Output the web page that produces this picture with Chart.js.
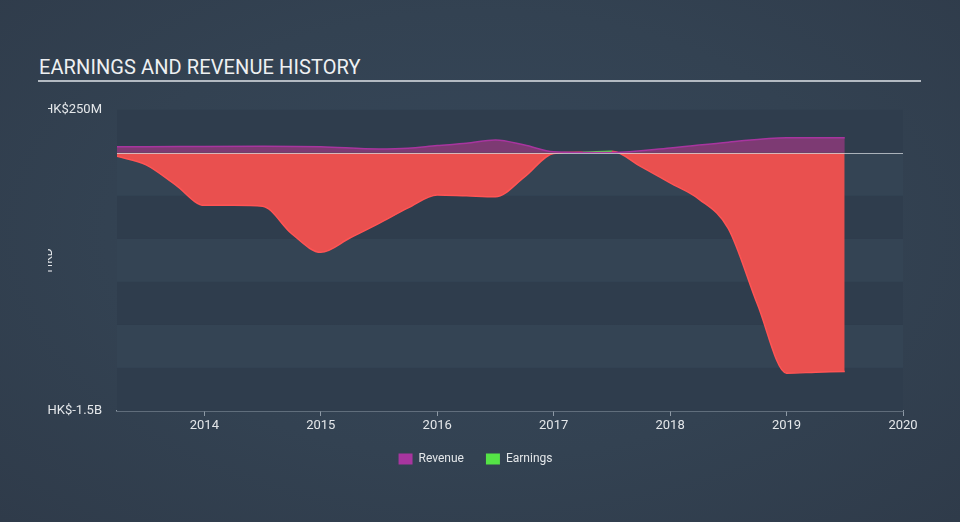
<!DOCTYPE html>
<html>
<head>
<meta charset="utf-8">
<script src="https://cdn.jsdelivr.net/npm/chart.js@4"></script>
<style>
  html, body { margin: 0; padding: 0; }
  body {
    width: 960px; height: 522px; overflow: hidden; position: relative;
    background: radial-gradient(ellipse at 50% 45%, #36475a 0%, #334252 55%, #2f3b4a 100%);
    font-family: Roboto, "Open Sans", sans-serif;
  }
  #title {
    position: absolute; left: 39px; top: 55px;
    color: #eef0f2; font-size: 20px; letter-spacing: 0.1px; white-space: nowrap;
  }
  #rule { position: absolute; left: 38px; top: 80px; width: 883px; height: 2px; background: #b3bac2; }
  #wrap { position: absolute; left: 48px; top: 87px; width: 872px; height: 388px; }
</style>
</head>
<body>
<div id="title">EARNINGS AND REVENUE HISTORY</div>
<div id="rule"></div>
<div id="wrap"><canvas id="chart"></canvas></div>
<script>
// values in HK$ millions, x in decimal years
const revenueX = [2013.25, 2013.5, 2014, 2014.5, 2015, 2015.5, 2015.75, 2016, 2016.25, 2016.5, 2016.75, 2017, 2017.25, 2017.5, 2018, 2018.5, 2019, 2019.5];
const revenueY = [35, 35, 37, 38, 35, 22, 26, 42, 55, 75, 45, 6, 2, 2, 28, 62, 88, 88];

const earningsX = [2013.25, 2013.5, 2013.75, 2014, 2014.25, 2014.5, 2014.75, 2015, 2015.25, 2015.5, 2015.75, 2016, 2016.25, 2016.5, 2016.75, 2017, 2017.25, 2017.5, 2017.75, 2018, 2018.25, 2018.5, 2018.75, 2019, 2019.25, 2019.5];
const earningsY = [-20, -70, -185, -305, -305, -310, -470, -578, -495, -410, -320, -245, -250, -255, -140, -4, 3, 9, -80, -175, -270, -440, -880, -1280, -1275, -1270];

const yearTicks = [2014, 2015, 2016, 2017, 2018, 2019, 2020];
const yMin = -1500, yMax = 250, yStep = 250;

const pts = (xs, ys) => xs.map((x, i) => ({ x, y: ys[i] }));

const bands = {
  id: "bands",
  beforeDatasetsDraw(chart) {
    const { ctx, chartArea: a, scales: { y } } = chart;
    ctx.save();
    let i = 0;
    for (let v = yMax; v > yMin; v -= yStep, i++) {
      const t = y.getPixelForValue(v), b = y.getPixelForValue(v - yStep);
      ctx.fillStyle = i % 2 === 0 ? "#2f3d4d" : "#344454";
      ctx.fillRect(a.left, t, a.right - a.left, b - t);
    }
    ctx.restore();
  },
  afterDatasetsDraw(chart) {
    const { ctx, chartArea: a, scales: { y } } = chart;
    const z = Math.round(y.getPixelForValue(0)) + 0.5;
    ctx.save();
    ctx.strokeStyle = "rgba(210,215,220,0.75)";
    ctx.lineWidth = 1;
    ctx.beginPath();
    ctx.moveTo(a.left, z);
    ctx.lineTo(a.right, z);
    ctx.stroke();
    ctx.restore();
  },
};

new Chart(document.getElementById("chart"), {
  type: "line",
  data: {
    datasets: [
      {
        label: "Revenue",
        data: pts(revenueX, revenueY),
        borderColor: "#a8359f",
        backgroundColor: "#7d3a73",
        borderWidth: 1.5, pointRadius: 0, fill: "origin",
        cubicInterpolationMode: "monotone",
      },
      {
        label: "Earnings",
        data: pts(earningsX, earningsY),
        borderColor: "#ff5454",
        backgroundColor: "#55e346",
        segment: {
          borderColor: (c) => (c.p0.parsed.y >= 0 && c.p1.parsed.y >= 0 ? "#55e346" : "#ff5454"),
        },
        borderWidth: 1.5, pointRadius: 0,
        fill: { target: "origin", above: "#55e346", below: "#e9504f" },
        cubicInterpolationMode: "monotone",
      },
    ],
  },
  options: {
    responsive: true, maintainAspectRatio: false, animation: false,
    layout: { padding: { top: 14, right: 17, bottom: 0, left: 0 } },
    scales: {
      x: {
        type: "linear", min: 2013.25, max: 2020,
        afterBuildTicks: (s) => { s.ticks = yearTicks.map((v) => ({ value: v })); },
        afterFit: (s) => { s.height = 20; },
        ticks: { color: "#e4e7ea", font: { family: "Roboto", size: 13 }, padding: 2, maxRotation: 0, callback: (v) => String(v) },
        grid: { drawOnChartArea: false, color: "#8e9aa6", tickLength: 5 },
        border: { color: "#8e9aa6", width: 1.5 },
      },
      y: {
        min: yMin, max: yMax,
        afterBuildTicks: (s) => { s.ticks = [{ value: yMax }, { value: yMin }]; },
        afterFit: (s) => { s.width = 69; },
        ticks: {
          color: "#e4e7ea", font: { family: "Roboto", size: 13 }, padding: 15,
          callback: (v) => (v === yMax ? "HK$250M" : v === yMin ? "HK$-1.5B" : ""),
        },
        grid: { display: false, drawTicks: false },
        border: { display: false },
        title: { display: true, text: "HKD", color: "#e4e7ea", font: { family: "Roboto", size: 12 }, padding: { top: -6 } },
      },
    },
    plugins: {
      tooltip: { enabled: false },
      legend: {
        position: "bottom",
        labels: {
          color: "#e4e7ea", font: { family: "Roboto", size: 12 },
          boxWidth: 14, boxHeight: 11, padding: 22,
          generateLabels: () => [
            { text: "Revenue", fillStyle: "#a8359f", strokeStyle: "#a8359f", lineWidth: 0, fontColor: "#e4e7ea" },
            { text: "Earnings", fillStyle: "#55e346", strokeStyle: "#55e346", lineWidth: 0, fontColor: "#e4e7ea" },
          ],
        },
      },
    },
  },
  plugins: [bands],
});
</script>
</body>
</html>
